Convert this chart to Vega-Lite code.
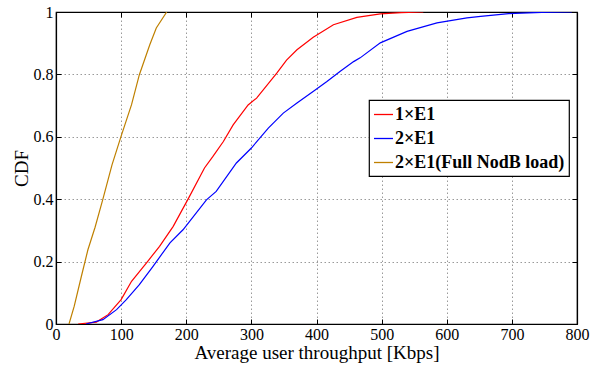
{
  "$schema": "https://vega.github.io/schema/vega-lite/v6.json",
  "autosize": "none",
  "width": 521,
  "height": 312,
  "padding": {"left": 56, "top": 12, "right": 21, "bottom": 43},
  "background": "white",
  "config": {
    "font": "Liberation Serif",
    "axis": {"labelFont": "Liberation Serif", "titleFont": "Liberation Serif"},
    "legend": {"labelFont": "Liberation Serif"},
    "view": {"stroke": "black", "strokeWidth": 1.2}
  },
  "data": {
    "values": [
      {"s": "1×E1", "x": 34, "y": 0},
      {"s": "1×E1", "x": 62, "y": 0.006},
      {"s": "1×E1", "x": 80, "y": 0.03},
      {"s": "1×E1", "x": 100, "y": 0.078},
      {"s": "1×E1", "x": 116, "y": 0.137},
      {"s": "1×E1", "x": 139, "y": 0.196},
      {"s": "1×E1", "x": 159, "y": 0.249},
      {"s": "1×E1", "x": 180, "y": 0.313},
      {"s": "1×E1", "x": 204, "y": 0.405},
      {"s": "1×E1", "x": 228, "y": 0.5},
      {"s": "1×E1", "x": 241, "y": 0.537},
      {"s": "1×E1", "x": 257, "y": 0.585},
      {"s": "1×E1", "x": 272, "y": 0.638},
      {"s": "1×E1", "x": 295, "y": 0.702},
      {"s": "1×E1", "x": 308, "y": 0.724},
      {"s": "1×E1", "x": 339, "y": 0.804},
      {"s": "1×E1", "x": 354, "y": 0.846},
      {"s": "1×E1", "x": 370, "y": 0.879},
      {"s": "1×E1", "x": 395, "y": 0.919},
      {"s": "1×E1", "x": 426, "y": 0.959},
      {"s": "1×E1", "x": 462, "y": 0.983},
      {"s": "1×E1", "x": 498, "y": 0.994},
      {"s": "1×E1", "x": 530, "y": 0.998},
      {"s": "1×E1", "x": 564, "y": 1.0},
      {"s": "2×E1", "x": 46, "y": 0},
      {"s": "2×E1", "x": 72, "y": 0.014},
      {"s": "2×E1", "x": 93, "y": 0.046},
      {"s": "2×E1", "x": 108, "y": 0.078},
      {"s": "2×E1", "x": 128, "y": 0.126},
      {"s": "2×E1", "x": 149, "y": 0.185},
      {"s": "2×E1", "x": 175, "y": 0.26},
      {"s": "2×E1", "x": 195, "y": 0.302},
      {"s": "2×E1", "x": 231, "y": 0.398},
      {"s": "2×E1", "x": 246, "y": 0.425},
      {"s": "2×E1", "x": 277, "y": 0.516},
      {"s": "2×E1", "x": 300, "y": 0.564},
      {"s": "2×E1", "x": 326, "y": 0.628},
      {"s": "2×E1", "x": 349, "y": 0.676},
      {"s": "2×E1", "x": 370, "y": 0.708},
      {"s": "2×E1", "x": 398, "y": 0.75},
      {"s": "2×E1", "x": 416, "y": 0.777},
      {"s": "2×E1", "x": 436, "y": 0.809},
      {"s": "2×E1", "x": 457, "y": 0.841},
      {"s": "2×E1", "x": 467, "y": 0.853},
      {"s": "2×E1", "x": 498, "y": 0.901},
      {"s": "2×E1", "x": 539, "y": 0.938},
      {"s": "2×E1", "x": 585, "y": 0.965},
      {"s": "2×E1", "x": 631, "y": 0.981},
      {"s": "2×E1", "x": 652, "y": 0.986},
      {"s": "2×E1", "x": 695, "y": 0.995},
      {"s": "2×E1", "x": 746, "y": 0.999},
      {"s": "2×E1", "x": 792, "y": 1.0},
      {"s": "2×E1(Full NodB load)", "x": 20, "y": 0},
      {"s": "2×E1(Full NodB load)", "x": 28, "y": 0.057},
      {"s": "2×E1(Full NodB load)", "x": 39, "y": 0.153},
      {"s": "2×E1(Full NodB load)", "x": 49, "y": 0.238},
      {"s": "2×E1(Full NodB load)", "x": 60, "y": 0.31},
      {"s": "2×E1(Full NodB load)", "x": 72, "y": 0.4},
      {"s": "2×E1(Full NodB load)", "x": 86, "y": 0.51},
      {"s": "2×E1(Full NodB load)", "x": 100, "y": 0.602},
      {"s": "2×E1(Full NodB load)", "x": 116, "y": 0.703},
      {"s": "2×E1(Full NodB load)", "x": 128, "y": 0.799},
      {"s": "2×E1(Full NodB load)", "x": 144, "y": 0.895},
      {"s": "2×E1(Full NodB load)", "x": 154, "y": 0.949},
      {"s": "2×E1(Full NodB load)", "x": 170, "y": 1.0}
    ]
  },
  "layer": [
    {
      "mark": {"type": "line", "strokeWidth": 1.2, "clip": true},
      "encoding": {
        "x": {
          "field": "x", "type": "quantitative",
          "scale": {"domain": [0, 800], "nice": false},
          "axis": {
            "values": [0, 100, 200, 300, 400, 500, 600, 700, 800],
            "title": "Average user throughput [Kbps]",
            "titleFont": "Liberation Serif", "titleFontSize": 19, "titleFontWeight": "normal",
            "titleColor": "black", "titlePadding": 1,
            "labelFont": "Liberation Serif", "labelFontSize": 16, "labelColor": "black",
            "labelPadding": 7, "labelFlush": false,
            "tickSize": -5, "tickColor": "black", "tickWidth": 1,
            "domainColor": "black", "domainWidth": 1.2,
            "grid": true, "gridColor": "#9a9a9a", "gridDash": [1.5, 2.5], "gridWidth": 1
          }
        },
        "y": {
          "field": "y", "type": "quantitative",
          "scale": {"domain": [0, 1], "nice": false},
          "axis": {
            "values": [0, 0.2, 0.4, 0.6, 0.8, 1],
            "format": "~g",
            "title": "CDF",
            "titleFont": "Liberation Serif", "titleFontSize": 19, "titleFontWeight": "normal",
            "titleColor": "black", "titlePadding": 2,
            "labelFont": "Liberation Serif", "labelFontSize": 16, "labelColor": "black",
            "labelPadding": 8, "labelFlush": false,
            "tickSize": -5, "tickColor": "black", "tickWidth": 1,
            "domainColor": "black", "domainWidth": 1.2,
            "grid": true, "gridColor": "#9a9a9a", "gridDash": [1.5, 2.5], "gridWidth": 1
          }
        },
        "color": {
          "field": "s", "type": "nominal",
          "scale": {
            "domain": ["1×E1", "2×E1", "2×E1(Full NodB load)"],
            "range": ["#ff0000", "#0000ff", "#bf8000"]
          },
          "legend": {
            "title": null,
            "orient": "none",
            "legendX": 313,
            "legendY": 88,
            "fillColor": "white",
            "strokeColor": "black",
            "padding": 4,
            "symbolType": "stroke",
            "symbolSize": 360,
            "symbolStrokeWidth": 1.3,
            "labelFont": "Liberation Serif",
            "labelFontSize": 18,
            "labelFontWeight": "bold",
            "labelColor": "black",
            "labelOffset": 1,
            "rowPadding": 4,
            "labelLimit": 300,
            "encode": {"legend": {"update": {"strokeWidth": {"value": 1.2}}}}
          }
        }
      }
    },
    {
      "mark": {"type": "point", "opacity": 0},
      "encoding": {
        "x": {
          "field": "x", "type": "quantitative",
          "axis": {
            "orient": "top", "values": [0, 100, 200, 300, 400, 500, 600, 700, 800],
            "labels": false, "title": null, "grid": false,
            "tickSize": -5, "tickColor": "black", "domainColor": "black", "domainWidth": 1.2
          }
        },
        "y": {
          "field": "y", "type": "quantitative",
          "axis": {
            "orient": "right", "values": [0, 0.2, 0.4, 0.6, 0.8, 1],
            "labels": false, "title": null, "grid": false,
            "tickSize": -5, "tickColor": "black", "domainColor": "black", "domainWidth": 1.2
          }
        }
      }
    }
  ],
  "resolve": {"axis": {"x": "independent", "y": "independent"}}
}
